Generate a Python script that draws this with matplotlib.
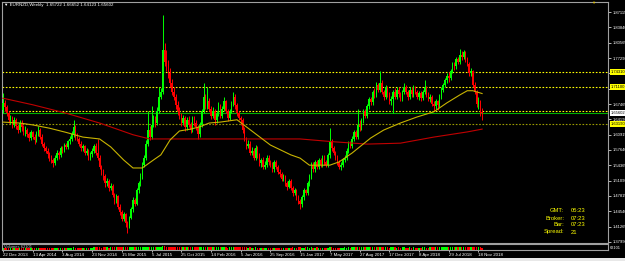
import numpy as np
import matplotlib.pyplot as plt
from matplotlib.patches import Rectangle

plt.rcParams['font.family'] = ['Liberation Sans', 'DejaVu Sans']

# weekly EURNZD candles, 22 Dec 2013 .. 2 Dec 2018 (prices)
first_open = 1.662
closes = [
    1.676, 1.668, 1.655, 1.640, 1.645, 1.630, 1.640, 1.628, 1.620, 1.635,
    1.625, 1.615, 1.620, 1.610, 1.602, 1.615, 1.605, 1.598, 1.612, 1.620,
    1.605, 1.590, 1.580, 1.575, 1.568, 1.560, 1.555, 1.548, 1.560, 1.570,
    1.565, 1.580, 1.575, 1.588, 1.582, 1.595, 1.600, 1.610, 1.625, 1.605,
    1.600, 1.590, 1.580, 1.585, 1.570, 1.575, 1.560, 1.568, 1.575, 1.585,
    1.570, 1.560, 1.540, 1.530, 1.520, 1.505, 1.510, 1.495, 1.500, 1.480,
    1.470, 1.478, 1.455, 1.445, 1.430, 1.440, 1.420, 1.415, 1.432, 1.450,
    1.470, 1.462, 1.490, 1.505, 1.520, 1.545, 1.560, 1.590, 1.620, 1.605,
    1.630, 1.640, 1.635, 1.660, 1.690, 1.700, 1.790, 1.765, 1.760, 1.740,
    1.720, 1.700, 1.690, 1.672, 1.660, 1.650, 1.635, 1.645, 1.625, 1.640,
    1.630, 1.620, 1.645, 1.635, 1.625, 1.610, 1.630, 1.660, 1.690, 1.670,
    1.680, 1.665, 1.650, 1.660, 1.640, 1.655, 1.670, 1.650, 1.665, 1.680,
    1.660, 1.645, 1.660, 1.675, 1.690, 1.672, 1.655, 1.645, 1.640, 1.620,
    1.600, 1.585, 1.590, 1.570, 1.575, 1.560, 1.580, 1.565, 1.548, 1.555,
    1.540, 1.545, 1.560, 1.550, 1.545, 1.535, 1.550, 1.540, 1.530, 1.525,
    1.515, 1.520, 1.505, 1.498, 1.510, 1.495, 1.485, 1.490, 1.475, 1.468,
    1.460, 1.475, 1.490, 1.485, 1.505, 1.520, 1.545, 1.535, 1.550, 1.540,
    1.555, 1.545, 1.560, 1.550, 1.545, 1.565, 1.595, 1.580, 1.570, 1.560,
    1.550, 1.540, 1.545, 1.555, 1.560, 1.575, 1.590, 1.585, 1.600, 1.615,
    1.605, 1.630, 1.625, 1.640, 1.660, 1.650, 1.670, 1.685, 1.678, 1.700,
    1.695, 1.715, 1.705, 1.720, 1.700, 1.690, 1.710, 1.695, 1.680, 1.685,
    1.700, 1.690, 1.705, 1.695, 1.685, 1.700, 1.712, 1.700, 1.690, 1.705,
    1.695, 1.710, 1.700, 1.690, 1.698, 1.688, 1.700, 1.710, 1.695, 1.685,
    1.690, 1.675, 1.670, 1.680, 1.672, 1.690, 1.705, 1.715, 1.725, 1.735,
    1.730, 1.745, 1.760, 1.755, 1.770, 1.765, 1.780, 1.775, 1.785, 1.770,
    1.760, 1.740, 1.745, 1.715, 1.700, 1.675, 1.680, 1.657, 1.65602,
]
highs = [
    1.699, 1.684, 1.672, 1.660, 1.652, 1.650, 1.646, 1.645, 1.632, 1.640,
    1.640, 1.630, 1.628, 1.624, 1.614, 1.620, 1.618, 1.610, 1.616, 1.628,
    1.624, 1.610, 1.594, 1.586, 1.580, 1.572, 1.566, 1.560, 1.565, 1.576,
    1.575, 1.585, 1.584, 1.592, 1.592, 1.598, 1.606, 1.616, 1.640, 1.630,
    1.612, 1.605, 1.595, 1.590, 1.588, 1.580, 1.578, 1.572, 1.580, 1.590,
    1.592, 1.600, 1.565, 1.545, 1.535, 1.525, 1.516, 1.514, 1.505, 1.503,
    1.485, 1.482, 1.480, 1.460, 1.448, 1.445, 1.442, 1.425, 1.436, 1.455,
    1.475, 1.474, 1.495, 1.510, 1.528, 1.550, 1.566, 1.598, 1.660, 1.628,
    1.670, 1.652, 1.648, 1.668, 1.712, 1.708, 1.865, 1.805, 1.790, 1.768,
    1.752, 1.728, 1.712, 1.695, 1.680, 1.668, 1.656, 1.652, 1.650, 1.646,
    1.648, 1.636, 1.650, 1.650, 1.640, 1.630, 1.636, 1.665, 1.720, 1.695,
    1.712, 1.688, 1.670, 1.668, 1.665, 1.660, 1.678, 1.675, 1.670, 1.690,
    1.684, 1.665, 1.664, 1.680, 1.700, 1.695, 1.676, 1.660, 1.650, 1.645,
    1.625, 1.605, 1.598, 1.595, 1.582, 1.580, 1.588, 1.585, 1.570, 1.560,
    1.562, 1.552, 1.566, 1.565, 1.556, 1.550, 1.555, 1.554, 1.545, 1.535,
    1.530, 1.525, 1.524, 1.510, 1.515, 1.514, 1.500, 1.495, 1.494, 1.480,
    1.472, 1.480, 1.495, 1.494, 1.510, 1.525, 1.550, 1.550, 1.555, 1.556,
    1.560, 1.560, 1.565, 1.565, 1.555, 1.570, 1.623, 1.600, 1.585, 1.575,
    1.565, 1.555, 1.550, 1.560, 1.566, 1.580, 1.595, 1.596, 1.606, 1.620,
    1.620, 1.665, 1.640, 1.645, 1.665, 1.664, 1.675, 1.690, 1.690, 1.705,
    1.708, 1.722, 1.720, 1.745, 1.725, 1.705, 1.715, 1.714, 1.700, 1.692,
    1.705, 1.708, 1.710, 1.712, 1.700, 1.705, 1.720, 1.716, 1.705, 1.710,
    1.710, 1.715, 1.714, 1.705, 1.702, 1.702, 1.705, 1.725, 1.714, 1.700,
    1.696, 1.694, 1.680, 1.685, 1.684, 1.695, 1.710, 1.720, 1.730, 1.740,
    1.742, 1.750, 1.765, 1.765, 1.776, 1.775, 1.792, 1.788, 1.790, 1.788,
    1.776, 1.765, 1.752, 1.748, 1.722, 1.705, 1.690, 1.684, 1.66652,
]
lows = [
    1.655, 1.660, 1.648, 1.634, 1.632, 1.624, 1.626, 1.622, 1.612, 1.615,
    1.618, 1.608, 1.606, 1.604, 1.595, 1.598, 1.600, 1.590, 1.594, 1.606,
    1.600, 1.585, 1.575, 1.570, 1.560, 1.552, 1.548, 1.540, 1.544, 1.555,
    1.558, 1.562, 1.570, 1.572, 1.578, 1.578, 1.590, 1.596, 1.605, 1.598,
    1.595, 1.585, 1.575, 1.575, 1.565, 1.565, 1.555, 1.555, 1.562, 1.570,
    1.565, 1.555, 1.535, 1.522, 1.512, 1.498, 1.500, 1.488, 1.490, 1.475,
    1.462, 1.464, 1.450, 1.438, 1.425, 1.425, 1.412, 1.400, 1.410, 1.428,
    1.445, 1.456, 1.458, 1.485, 1.500, 1.515, 1.540, 1.555, 1.585, 1.598,
    1.600, 1.625, 1.625, 1.630, 1.655, 1.685, 1.695, 1.755, 1.745, 1.730,
    1.712, 1.694, 1.684, 1.665, 1.652, 1.642, 1.628, 1.630, 1.618, 1.620,
    1.625, 1.612, 1.615, 1.628, 1.620, 1.600, 1.605, 1.625, 1.655, 1.665,
    1.665, 1.660, 1.642, 1.645, 1.630, 1.635, 1.650, 1.645, 1.644, 1.660,
    1.655, 1.638, 1.640, 1.655, 1.670, 1.665, 1.648, 1.640, 1.630, 1.612,
    1.595, 1.578, 1.580, 1.565, 1.565, 1.555, 1.555, 1.560, 1.542, 1.540,
    1.535, 1.535, 1.540, 1.545, 1.540, 1.530, 1.530, 1.536, 1.525, 1.518,
    1.510, 1.510, 1.500, 1.490, 1.495, 1.490, 1.478, 1.480, 1.470, 1.462,
    1.450, 1.455, 1.470, 1.480, 1.480, 1.500, 1.515, 1.530, 1.530, 1.535,
    1.535, 1.540, 1.540, 1.545, 1.540, 1.540, 1.560, 1.575, 1.565, 1.555,
    1.545, 1.535, 1.534, 1.540, 1.550, 1.555, 1.570, 1.580, 1.580, 1.595,
    1.600, 1.600, 1.618, 1.620, 1.635, 1.645, 1.645, 1.665, 1.672, 1.672,
    1.688, 1.690, 1.700, 1.700, 1.695, 1.684, 1.686, 1.690, 1.675, 1.672,
    1.655, 1.685, 1.685, 1.690, 1.680, 1.680, 1.695, 1.695, 1.684, 1.685,
    1.690, 1.690, 1.695, 1.685, 1.684, 1.682, 1.684, 1.695, 1.690, 1.680,
    1.678, 1.670, 1.660, 1.664, 1.662, 1.668, 1.685, 1.700, 1.710, 1.720,
    1.722, 1.725, 1.740, 1.748, 1.750, 1.760, 1.760, 1.768, 1.770, 1.765,
    1.755, 1.735, 1.735, 1.710, 1.695, 1.668, 1.665, 1.650, 1.64123,
]
volumes = [
    52, 48, 45, 50, 47, 44, 49, 51, 46, 43, 48, 50, 45, 47, 52, 49, 46, 44, 48, 50,
    47, 45, 49, 52, 48, 46, 50, 44, 47, 51, 49, 45, 48, 50, 46, 52, 49, 47, 55, 53,
    48, 46, 50, 47, 45, 49, 51, 48, 46, 55, 58, 62, 56, 53, 59, 60, 57, 54, 58, 61,
    63, 59, 65, 68, 64, 70, 66, 62, 67, 64, 60, 63, 61, 58, 62, 65, 60, 63, 68, 66,
    70, 67, 64, 69, 72, 75, 92, 80, 74, 70, 68, 65, 62, 66, 60, 58, 63, 61, 59, 62,
    60, 57, 61, 64, 59, 56, 60, 63, 66, 62, 58, 61, 57, 60, 55, 58, 62, 59, 56, 60,
    57, 54, 58, 61, 63, 59, 62, 64, 60, 58, 55, 57, 53, 56, 54, 52, 55, 53, 50, 54,
    51, 53, 50, 52, 49, 51, 48, 50, 53, 49, 52, 50, 54, 51, 49, 52, 55, 50, 53, 56,
    58, 54, 52, 55, 57, 53, 56, 54, 51, 55, 53, 50, 52, 54, 51, 53, 60, 56, 52, 50,
    53, 51, 49, 52, 55, 53, 56, 54, 57, 59, 55, 58, 56, 60, 57, 55, 58, 62, 59, 61,
    58, 60, 57, 62, 59, 56, 58, 55, 53, 56, 60, 57, 54, 56, 53, 55, 58, 54, 52, 55,
    53, 56, 52, 54, 51, 53, 55, 57, 54, 52, 56, 58, 60, 57, 55, 58, 56, 59, 61, 57,
    60, 58, 62, 59, 61, 58, 63, 60, 57, 62, 64, 66, 61, 65, 68, 63, 60, 58, 40,
]

# moving averages (yellow fast, red slow), vertices
ma_fast_bar = [0, 9, 16, 25, 34, 43, 52, 58, 65, 70, 75, 81, 85, 90, 95, 101, 106, 111, 117, 126,
               131, 144, 155, 160, 165, 176, 181, 188, 198, 205, 214, 223, 232, 239, 246, 250, 253, 258]
ma_fast_val = [1.636, 1.634, 1.630, 1.623, 1.614, 1.604, 1.600, 1.583, 1.555, 1.538,
               1.538, 1.555, 1.566, 1.598, 1.617, 1.621, 1.626, 1.634, 1.636, 1.641,
               1.626, 1.587, 1.566, 1.559, 1.544, 1.544, 1.551, 1.570, 1.602, 1.619,
               1.634, 1.647, 1.658, 1.677, 1.694, 1.703, 1.703, 1.697]
ma_slow_bar = [0, 16, 34, 52, 70, 79, 106, 160, 178, 196, 214, 232, 250, 258]
ma_slow_val = [1.687, 1.673, 1.655, 1.634, 1.609, 1.600, 1.600, 1.600, 1.594, 1.589,
               1.591, 1.604, 1.615, 1.621]

# horizontal levels
yellow_levels = [1.74310, 1.71100, 1.65970]
olive_level = 1.63190
bid = 1.65602

price_ticks = [1.87115, 1.83840, 1.80565, 1.77290, 1.74015, 1.70740, 1.67465, 1.64190,
               1.60915, 1.57640, 1.54365, 1.51090, 1.47815, 1.44540, 1.41265, 1.37990]
# scale labels hidden under the level boxes
price_tick_labels = ['1.87115', '1.83840', '1.80565', '1.77290', '', '', '1.67465', '1.64190',
                     '1.60915', '1.57640', '1.54365', '1.51090', '1.47815', '1.44540', '1.41265',
                     '1.37990']
date_bars = [0, 16, 32, 48, 64, 80, 96, 112, 128, 144, 160, 176, 192, 208, 224, 240, 256]
date_labels = ['22 Dec 2013', '13 Apr 2014', '3 Aug 2014', '23 Nov 2014', '15 Mar 2015',
               '5 Jul 2015', '25 Oct 2015', '14 Feb 2016', '5 Jun 2016', '25 Sep 2016',
               '15 Jan 2017', '7 May 2017', '27 Aug 2017', '17 Dec 2017', '8 Apr 2018',
               '29 Jul 2018', '18 Nov 2018']

info_names = ['GMT:', 'Broker:', 'Bar:', 'Spread:']
info_values = ['05:23', '07:23', '07:23', '21']

W, H = 625, 261
fig = plt.figure(figsize=(W / 100, H / 100), dpi=100, facecolor='black')


def box(x0, y0, x1, y1):
    return [x0 / W, 1 - y1 / H, (x1 - x0) / W, (y1 - y0) / H]


ax = fig.add_axes(box(2, 2, 608, 243), facecolor='black')
axv = fig.add_axes(box(2, 244, 608, 250), facecolor='black', sharex=ax)

opens = np.array([first_open] + closes[:-1])
c = np.array(closes)
hi = np.array(highs)
lo = np.array(lows)
x = np.arange(len(c))
cols = np.where(c >= opens, '#00ff00', '#ff0000')

ax.vlines(x, lo, hi, colors=cols, linewidth=0.7, zorder=3)
ax.bar(x, np.abs(c - opens), bottom=np.minimum(c, opens), width=0.75,
       color=cols, linewidth=0, zorder=3)

ax.plot(ma_slow_bar, ma_slow_val, color='#c00000', lw=0.8, zorder=4)
ax.plot(ma_fast_bar, ma_fast_val, color='#c8b400', lw=0.8, zorder=4)

for lvl in yellow_levels:
    ax.axhline(lvl, color='#ffff00', lw=0.8, ls=(0, (1.5, 1.5)), zorder=2)
ax.axhline(olive_level, color='#9a9a00', lw=0.8, ls=(0, (1.5, 1.5)), zorder=2)
ax.axhline(bid, color='#00b000', lw=0.8, zorder=2)

ax.set_xlim(-0.54, 325.8)
ax.set_ylim(1.37775, 1.89253)

ax.yaxis.tick_right()
ax.set_yticks(price_ticks, price_tick_labels)
ax.tick_params(axis='y', colors='white', labelsize=3.0, length=2, width=0.5, pad=1.5)
ax.tick_params(axis='x', bottom=False, labelbottom=False)
for sp in ax.spines.values():
    sp.set_color('#a0a0a0')
    sp.set_linewidth(0.8)

# price boxes on the scale
ytr = ax.get_yaxis_transform()
for lvl in yellow_levels[:2]:
    ax.text(1.004, lvl, f'{lvl:.5f}', transform=ytr, fontsize=3.0, color='black', va='center',
            bbox=dict(facecolor='#ffff00', edgecolor='none', pad=0.6), zorder=6)
ax.text(1.004, bid, f'{bid:.5f}', transform=ytr, fontsize=3.0, color='black', va='center',
        bbox=dict(facecolor='white', edgecolor='none', pad=0.6), zorder=6)
ax.text(1.004, olive_level, f'{olive_level:.5f}', transform=ytr, fontsize=3.0, color='black',
        va='center', bbox=dict(facecolor='#ffff00', edgecolor='none', pad=0.6), zorder=6)

# volume sub-window
axv.bar(x, volumes, width=0.75, color=cols, linewidth=0)
axv.set_ylim(0, 130)
axv.yaxis.tick_right()
axv.set_yticks([55], ['62101'])
axv.tick_params(axis='y', colors='white', labelsize=2.8, length=0, pad=1.5)
axv.set_xticks(date_bars, date_labels)
axv.tick_params(axis='x', colors='white', labelsize=3.2, length=1.5, width=0.5, pad=1)
for lab in axv.get_xticklabels():
    lab.set_ha('left')
for sp in axv.spines.values():
    sp.set_color('#a0a0a0')
    sp.set_linewidth(0.8)
axv.text(0.004, 0.55, 'Volumes 62101', transform=axv.transAxes, fontsize=3.0,
         color='#c0c0c0', va='center')

# header and info panel
fig.text(4 / W, 1 - 5 / H, '\u25bc EURNZD,Weekly  1.65722 1.66652 1.64123 1.65602',
         color='white', fontsize=3.2, va='center')
fig.text(593 / W, 1 - 3 / H, '\u25bc', color='#e0c000', fontsize=3.0, va='center', ha='center')
for k, (nm, val) in enumerate(zip(info_names, info_values)):
    yy = 1 - (211 + 7 * k) / H
    fig.text(564 / W, yy, nm, color='#ffff00', fontsize=4.2, ha='right', va='center')
    fig.text(571 / W, yy, val, color='#ffff00', fontsize=4.2, ha='left', va='center')

fig.patches.append(Rectangle((0, 0), 1, 3 / H, transform=fig.transFigure,
                             facecolor='#e8e8e8', edgecolor='none'))

fig.savefig('out.png', dpi=100, facecolor='black')
